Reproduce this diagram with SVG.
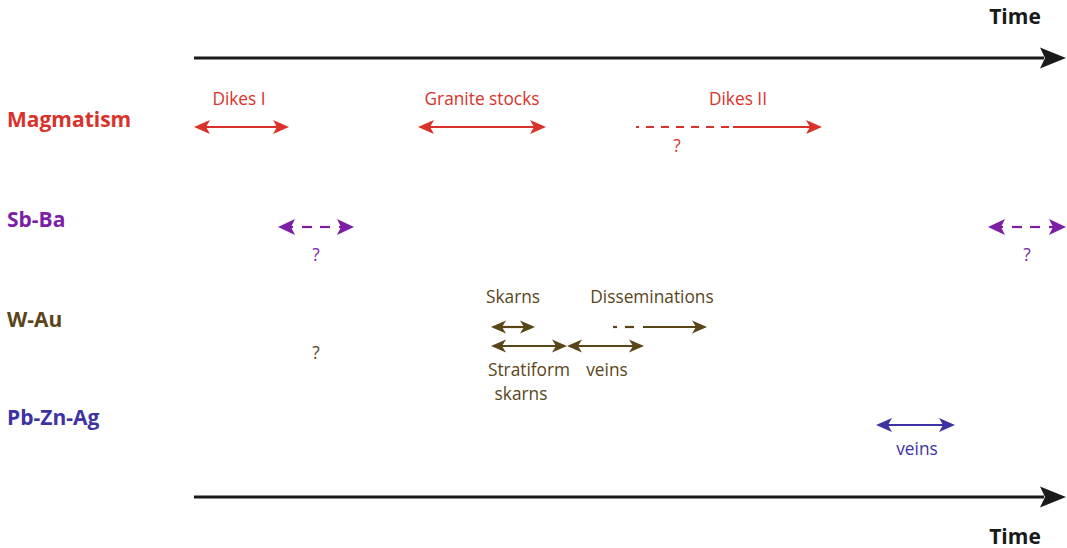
<svg xmlns="http://www.w3.org/2000/svg" width="1067" height="548" viewBox="0 0 1067 548">
<style>
text{font-family:"Open Sans","Noto Sans","Liberation Sans",sans-serif}
.lab{font-size:21px;font-weight:bold}
.t{font-size:17.3px}
.mid{text-anchor:middle}
.red{fill:#d9322a}.pur{fill:#7d1fa5}.brn{fill:#5a4519}.blu{fill:#3e33a3}.blk{fill:#1a1a1a}
.ln{fill:none;stroke-width:2.2}
.lr{stroke:#d9322a}.lp{stroke:#7d1fa5}.lb{stroke:#5a4519}.lu{stroke:#3e33a3}
</style>
<defs>
<marker id="aK" viewBox="-26 -11 26 22" refX="-22" refY="0" markerWidth="26" markerHeight="22" markerUnits="userSpaceOnUse" orient="auto-start-reverse"><path d="M0,0 L-26,-10.5 L-21,0 L-26,10.5 Z" fill="#1a1a1a"/></marker>
<marker id="aR" viewBox="-16 -8 16 16" refX="-11" refY="0" markerWidth="16" markerHeight="16" markerUnits="userSpaceOnUse" orient="auto-start-reverse"><path d="M0,0 L-16,-7 L-12,0 L-16,7 Z" fill="#d9322a"/></marker>
<marker id="aP" viewBox="-18 -9 18 18" refX="-13" refY="0" markerWidth="18" markerHeight="18" markerUnits="userSpaceOnUse" orient="auto-start-reverse"><path d="M0,0 L-17,-8 L-13,0 L-17,8 Z" fill="#7d1fa5"/></marker>
<marker id="aB" viewBox="-16 -8 16 16" refX="-11" refY="0" markerWidth="16" markerHeight="16" markerUnits="userSpaceOnUse" orient="auto-start-reverse"><path d="M0,0 L-15,-6.5 L-11,0 L-15,6.5 Z" fill="#5a4519"/></marker>
<marker id="aU" viewBox="-16 -8 16 16" refX="-11" refY="0" markerWidth="16" markerHeight="16" markerUnits="userSpaceOnUse" orient="auto-start-reverse"><path d="M0,0 L-16,-7 L-12,0 L-16,7 Z" fill="#3e33a3"/></marker>
</defs>

<g id="connectors">
<line x1="194" y1="58" x2="1044" y2="58" stroke="#1a1a1a" stroke-width="3" marker-end="url(#aK)"/>
<line x1="194" y1="497" x2="1044" y2="497" stroke="#1a1a1a" stroke-width="3" marker-end="url(#aK)"/>
<line class="ln lr" x1="205" y1="127" x2="278" y2="127" marker-start="url(#aR)" marker-end="url(#aR)"/>
<line class="ln lr" x1="429" y1="127" x2="535" y2="127" marker-start="url(#aR)" marker-end="url(#aR)"/>
<line class="ln lr" x1="636" y1="127" x2="733" y2="127" stroke-dasharray="3 7 8 7 8 7 8 7 8 7 8 7 8 7"/>
<line class="ln lr" x1="733" y1="127" x2="811" y2="127" marker-end="url(#aR)"/>
<line class="ln lp" x1="291" y1="227" x2="293" y2="227" marker-start="url(#aP)"/>
<line class="ln lp" x1="302" y1="227" x2="312" y2="227"/>
<line class="ln lp" x1="320" y1="227" x2="330" y2="227"/>
<line class="ln lp" x1="339" y1="227" x2="341" y2="227" marker-end="url(#aP)"/>
<line class="ln lp" x1="1001" y1="227" x2="1003" y2="227" marker-start="url(#aP)"/>
<line class="ln lp" x1="1012" y1="227" x2="1022" y2="227"/>
<line class="ln lp" x1="1030" y1="227" x2="1040" y2="227"/>
<line class="ln lp" x1="1049" y1="227" x2="1053" y2="227" marker-end="url(#aP)"/>
<line class="ln lb" x1="502" y1="327" x2="524" y2="327" marker-start="url(#aB)" marker-end="url(#aB)"/>
<line class="ln lb" x1="502" y1="346" x2="556" y2="346" marker-start="url(#aB)" marker-end="url(#aB)"/>
<line class="ln lb" x1="578" y1="346" x2="633" y2="346" marker-start="url(#aB)" marker-end="url(#aB)"/>
<line class="ln lb" x1="613" y1="327" x2="617" y2="327"/>
<line class="ln lb" x1="625" y1="327" x2="634" y2="327"/>
<line class="ln lb" x1="643" y1="327" x2="696" y2="327" marker-end="url(#aB)"/>
<line class="ln lu" x1="887" y1="425" x2="944" y2="425" marker-start="url(#aU)" marker-end="url(#aU)"/>
</g>

<g id="time-top"><text class="lab blk" x="1015" y="24" text-anchor="middle">Time</text></g>
<g id="time-bottom"><text class="lab blk" x="1015" y="544" text-anchor="middle">Time</text></g>

<g id="magmatism">
<text class="lab red" x="7" y="127">Magmatism</text>
<text class="t red mid" x="239" y="105">Dikes I</text>
<text class="t red mid" x="482" y="105">Granite stocks</text>
<text class="t red mid" x="738" y="105">Dikes II</text>
<text class="t red mid" x="677" y="152">?</text>
</g>

<g id="sb-ba">
<text class="lab pur" x="7" y="227">Sb-Ba</text>
<text class="t pur mid" x="316" y="261">?</text>
<text class="t pur mid" x="1027" y="261">?</text>
</g>

<g id="w-au">
<text class="lab brn" x="7" y="327">W-Au</text>
<text class="t brn mid" x="513" y="303">Skarns</text>
<text class="t brn mid" x="652" y="303">Disseminations</text>
<text class="t brn mid" x="529" y="376">Stratiform</text>
<text class="t brn mid" x="521" y="400">skarns</text>
<text class="t brn mid" x="607" y="376">veins</text>
<text class="t brn mid" x="316" y="359">?</text>
</g>

<g id="pb-zn-ag">
<text class="lab blu" x="7" y="425">Pb-Zn-Ag</text>
<text class="t blu mid" x="917" y="455">veins</text>
</g>
</svg>
